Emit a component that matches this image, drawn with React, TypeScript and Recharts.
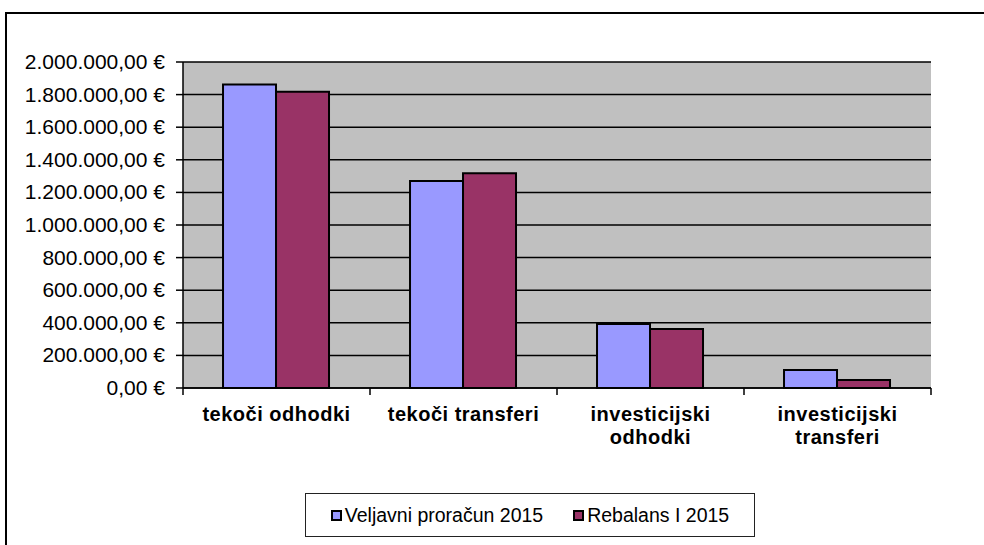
import { BarChart, Bar, XAxis, YAxis, CartesianGrid } from "recharts";

const categories = [
  "tekoči odhodki",
  "tekoči transferi",
  "investicijski odhodki",
  "investicijski transferi",
];
const veljavni = [1862000, 1270000, 393000, 110000];
const rebalans = [1818000, 1318000, 362000, 49000];
const yTicks = [0, 200000, 400000, 600000, 800000, 1000000, 1200000, 1400000, 1600000, 1800000, 2000000];

const seriesNames = ["Veljavni proračun 2015", "Rebalans I 2015"];
const colors = ["#9999FF", "#993366"];

const data = categories.map((name, i) => ({
  name,
  veljavni: veljavni[i],
  rebalans: rebalans[i],
}));

const FONT = '"Liberation Sans", Arial, sans-serif';

// 2000000 -> "2.000.000,00 €"
const formatEur = (v: number) => {
  const s = Math.round(v).toString().replace(/\B(?=(\d{3})+(?!\d))/g, ".");
  return s + ",00 €";
};

const ValueTick = (props: any) => {
  const { x, y, payload } = props;
  return (
    <text
      x={x + 1}
      y={y + 7}
      textAnchor="end"
      fontFamily={FONT}
      fontSize={21}
      fill="#000"
    >
      {formatEur(payload.value)}
    </text>
  );
};

const CategoryTick = (props: any) => {
  const { x, y, payload, index } = props;
  const half = payload && payload.offset ? payload.offset : 93;
  const label: string = payload.value;
  const lines = label.length > 16 ? label.split(" ") : [label];
  return (
    <g>
      <line x1={x - half} x2={x - half} y1={y} y2={y + 7} stroke="#000" strokeWidth={1.5} />
      {index === categories.length - 1 && (
        <line x1={x + half} x2={x + half} y1={y} y2={y + 7} stroke="#000" strokeWidth={1.5} />
      )}
      {lines.map((l, i) => (
        <text
          key={i}
          x={x}
          y={y + 33 + i * 23}
          textAnchor="middle"
          fontFamily={FONT}
          fontSize={20}
          fontWeight="bold"
          letterSpacing={0.5}
          fill="#000"
        >
          {l}
        </text>
      ))}
    </g>
  );
};

const Legend = () => (
  <div
    style={{
      position: "absolute",
      left: 305,
      top: 493,
      width: 448,
      height: 42,
      border: "1.5px solid #222",
      background: "#fff",
      display: "flex",
      alignItems: "center",
      justifyContent: "center",
      gap: 30,
      fontFamily: FONT,
      fontSize: 19.5,
      color: "#000",
    }}
  >
    {seriesNames.map((n, i) => (
      <div key={n} style={{ display: "flex", alignItems: "center" }}>
        <span
          style={{
            display: "inline-block",
            width: 7,
            height: 7,
            border: "2px solid #000",
            background: colors[i],
            marginRight: 3,
          }}
        />
        <span>{n}</span>
      </div>
    ))}
  </div>
);

export default function App() {
  return (
    <div
      style={{
        position: "absolute",
        left: 0,
        top: 0,
        width: 984,
        height: 545,
        overflow: "hidden",
        background: "#fff",
      }}
    >
      <div
        style={{
          position: "absolute",
          left: 5,
          top: 12,
          width: 1100,
          height: 700,
          border: "2px solid #000",
        }}
      />
      <div style={{ position: "absolute", left: 0, top: 0 }}>
        <BarChart
          width={984}
          height={545}
          data={data}
          margin={{ top: 62, right: 53, left: 0, bottom: 97 }}
          barCategoryGap="21.4%"
          barGap={0}
        >
          <CartesianGrid
            vertical={false}
            stroke="#000"
            strokeWidth={1.5}
            fill="#C0C0C0"
            fillOpacity={1}
          />
          <XAxis
            dataKey="name"
            height={60}
            interval={0}
            tickSize={0}
            tickMargin={0}
            tickLine={false}
            axisLine={{ stroke: "#000", strokeWidth: 1.5 }}
            tick={<CategoryTick />}
          />
          <XAxis
            xAxisId="top"
            dataKey="name"
            orientation="top"
            height={0}
            tick={false}
            tickLine={false}
            axisLine={{ stroke: "#808080", strokeWidth: 2.5 }}
          />
          <YAxis
            width={183}
            domain={[0, 2000000]}
            ticks={yTicks}
            interval={0}
            tickSize={7}
            tickMargin={12}
            tick={<ValueTick />}
            tickLine={{ stroke: "#000", strokeWidth: 1.5 }}
            axisLine={{ stroke: "#000", strokeWidth: 1.5 }}
          />
          <YAxis
            yAxisId="right"
            orientation="right"
            width={0}
            tick={false}
            tickLine={false}
            axisLine={{ stroke: "#808080", strokeWidth: 2.5 }}
          />
          <Bar
            dataKey="veljavni"
            name={seriesNames[0]}
            fill={colors[0]}
            stroke="#000"
            strokeWidth={2}
            isAnimationActive={false}
          />
          <Bar
            dataKey="rebalans"
            name={seriesNames[1]}
            fill={colors[1]}
            stroke="#000"
            strokeWidth={2}
            isAnimationActive={false}
          />
        </BarChart>
      </div>
      <Legend />
    </div>
  );
}
